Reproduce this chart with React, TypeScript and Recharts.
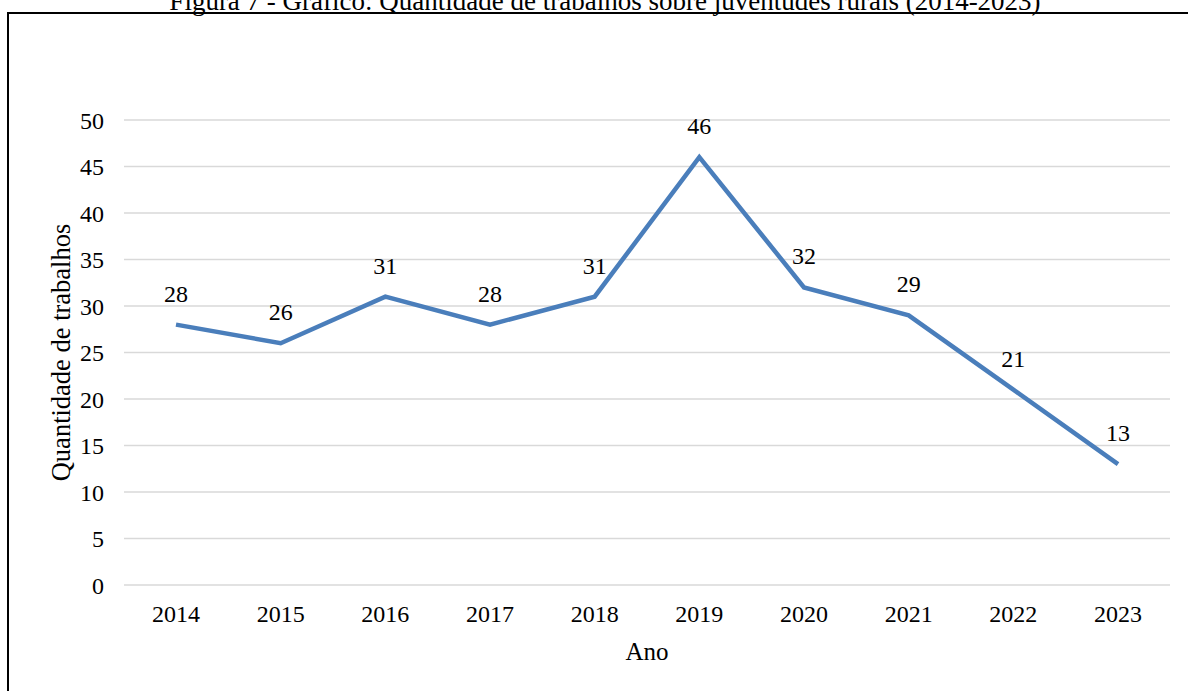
import { LineChart, Line, XAxis, YAxis, CartesianGrid, LabelList, Label } from "recharts";

const FONTE = '"Liberation Serif", "Times New Roman", serif';

const anos = ["2014", "2015", "2016", "2017", "2018", "2019", "2020", "2021", "2022", "2023"];
const trabalhos = [28, 26, 31, 28, 31, 46, 32, 29, 21, 13];
const ticksY = [0, 5, 10, 15, 20, 25, 30, 35, 40, 45, 50];

const dados = anos.map((ano, i) => ({ ano, trabalhos: trabalhos[i] }));

function RotuloEixoY({ viewBox }: { viewBox?: { x: number; y: number; width: number; height: number } }) {
  if (!viewBox) return null;
  const x = viewBox.x - 3;
  const y = viewBox.y + viewBox.height / 2;
  return (
    <text
      x={x}
      y={y}
      transform={`rotate(-90 ${x} ${y})`}
      textAnchor="middle"
      dy="0.35em"
      fontSize={26.5}
      fontFamily={FONTE}
      fill="#000"
    >
      Quantidade de trabalhos
    </text>
  );
}

export default function App() {
  return (
    <div style={{ position: "absolute", left: 0, top: 0, width: 1188, height: 691, overflow: "hidden", background: "#fff" }}>
      <svg width={1188} height={691} style={{ position: "absolute", left: 0, top: 0, pointerEvents: "none" }}>
        <text x={605} y={10} textAnchor="middle" fontSize={27} fontFamily={FONTE} fill="#000">
          Figura 7 - Gráfico: Quantidade de trabalhos sobre juventudes rurais (2014-2023)
        </text>
        <line x1={7} y1={13} x2={1188} y2={13} stroke="#000" strokeWidth={2} />
        <line x1={8} y1={12} x2={8} y2={691} stroke="#000" strokeWidth={2} />
      </svg>
      <div style={{ position: "absolute", left: 0, top: 0 }}>
        <LineChart
          width={1188}
          height={691}
          data={dados}
          margin={{ top: 120, right: 18, bottom: 46, left: 64 }}
        >
          <CartesianGrid vertical={false} stroke="#d9d9d9" strokeWidth={1.5} />
          <XAxis
            dataKey="ano"
            height={60}
            axisLine={false}
            tickLine={false}
            tickMargin={14}
            padding={{ left: 52, right: 52 }}
            tick={{ fontSize: 24, fill: "#000", fontFamily: FONTE }}
          >
            <Label value="Ano" position="bottom" offset={-3} fontSize={25} fill="#000" fontFamily={FONTE} />
          </XAxis>
          <YAxis
            width={60}
            domain={[0, 50]}
            ticks={ticksY}
            axisLine={false}
            tickLine={false}
            tickMargin={14}
            tick={{ fontSize: 24, fill: "#000", fontFamily: FONTE }}
          >
            <Label content={<RotuloEixoY />} />
          </YAxis>
          <Line
            type="linear"
            dataKey="trabalhos"
            stroke="#4a7ebb"
            strokeWidth={4.5}
            dot={false}
            isAnimationActive={false}
          >
            <LabelList dataKey="trabalhos" position="top" offset={23} fontSize={24} fill="#000" fontFamily={FONTE} />
          </Line>
        </LineChart>
      </div>
    </div>
  );
}
